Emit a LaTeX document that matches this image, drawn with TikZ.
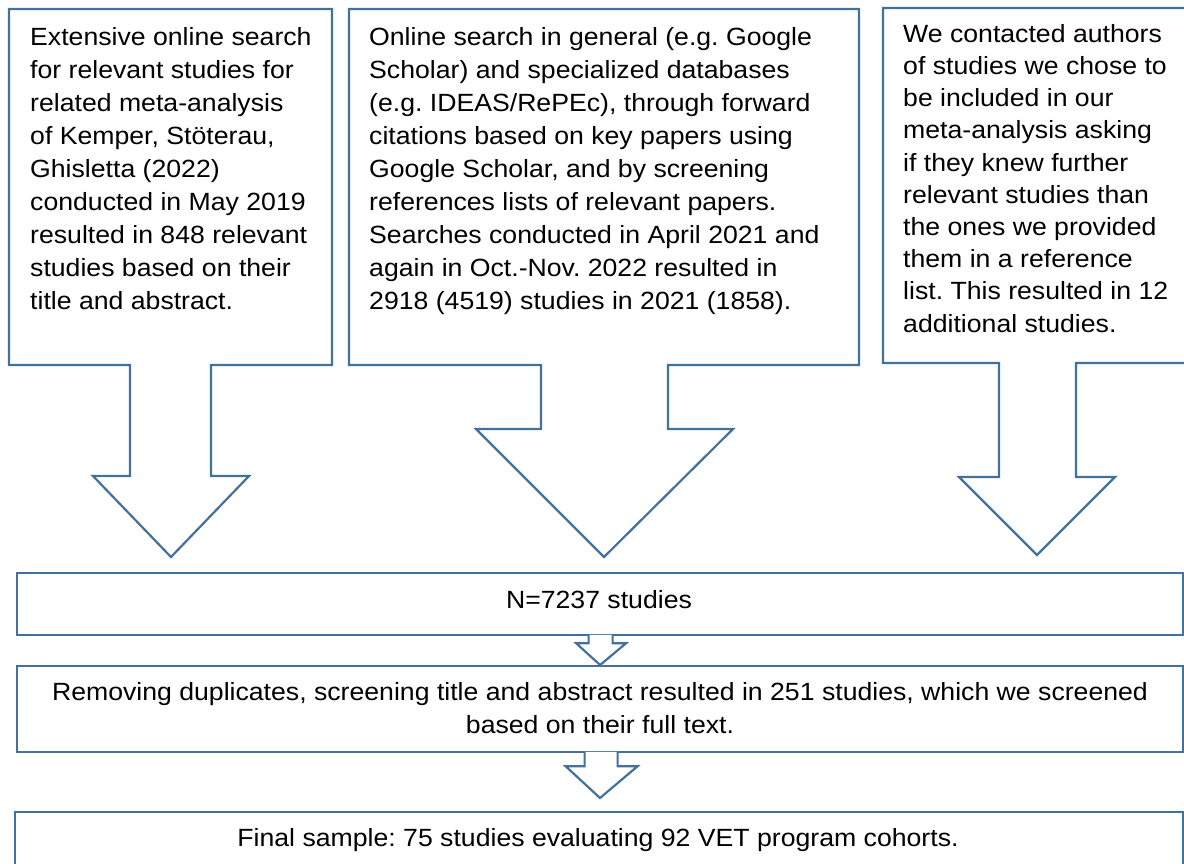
\documentclass[tikz,border=0pt]{standalone}
\usepackage{fontspec}
\setmainfont{Liberation Sans}[FakeStretch=1.07]
\usetikzlibrary{calc}
\definecolor{bord}{RGB}{65,113,156}
\begin{document}
\begin{tikzpicture}[x=1pt,y=-1pt,
  shapeline/.style={draw=bord,line width=2.2pt,line join=miter,fill=white},
  boxnode/.style={draw=bord,line width=2.2pt,fill=white,inner sep=0pt,anchor=north west},
  txt/.style={anchor=north west,inner sep=0pt,align=left,font=\fontsize{24.9}{33.1}\selectfont},
  ctxt/.style={anchor=north,inner sep=0pt,align=center,font=\fontsize{24.9}{33.1}\selectfont}]
\useasboundingbox (0,0) rectangle (1184,863);
\frenchspacing
% --- three callouts ---
\draw[shapeline] (9,9) -- (332,9) -- (332,365) -- (211,365) -- (211,476) -- (249,476)
  -- (171,557) -- (93,476) -- (130,476) -- (130,365) -- (9,365) -- cycle;
\draw[shapeline] (349,9) -- (859,9) -- (859,365) -- (668,365) -- (668,429) -- (733,429)
  -- (604,557) -- (476,429) -- (541,429) -- (541,365) -- (349,365) -- cycle;
\draw[shapeline] (883,8) -- (1191,8) -- (1191,363) -- (1076,363) -- (1076,477) -- (1115,477)
  -- (1037,555) -- (959,477) -- (999,477) -- (999,363) -- (883,363) -- cycle;

\node[txt] (t1) at (30,21.8) {\strut Extensive online search\\
for relevant studies for\\
related meta-analysis\\
of Kemper, Stöterau,\\
Ghisletta (2022)\\
conducted in May 2019\\
resulted in 848 relevant\\
studies based on their\\
title and abstract.};
\node[txt] (t2) at (369,21.8) {\strut Online search in general (e.g. Google\\
Scholar) and specialized databases\\
(e.g. IDEAS/RePEc), through forward\\
citations based on key papers using\\
Google Scholar, and by screening\\
references lists of relevant papers.\\
Searches conducted in April 2021 and\\
again in Oct.-Nov. 2022 resulted in\\
2918 (4519) studies in 2021 (1858).};
\node[txt,font=\fontsize{24.9}{32.2}\selectfont] (t3) at (903,19.5) {\strut We contacted authors\\
of studies we chose to\\
be included in our\\
meta-analysis asking\\
if they knew further\\
relevant studies than\\
the ones we provided\\
them in a reference\\
list. This resulted in 12\\
additional studies.};

% --- lower boxes ---
\node[boxnode,minimum width=1166pt,minimum height=62pt] (nbox) at (16,572) {};
\node[boxnode,minimum width=1166pt,minimum height=86pt] (rbox) at (16,665) {};
\node[boxnode,minimum width=1168pt,minimum height=70pt] (fbox) at (14,811) {};
\coordinate (ftip) at (600,798);

\node[ctxt] (nt) at (599,585.5) {\strut N=7237 studies};
\node[ctxt] (rt) at (600,676.8) {\strut Removing duplicates, screening title and abstract resulted in 251 studies, which we screened\\
based on their full text.};
\node[ctxt] (ft) at (598,822.8) {\strut Final sample: 75 studies evaluating 92 VET program cohorts.};

% --- small block arrows ---
\draw[shapeline] ($(nbox.south)+(-11.5,-1.3)$) -- ($(nbox.south)+(-11.5,7)$) -- ($(nbox.south)+(-24,7)$)
  -- (rbox.north) -- ($(nbox.south)+(26,7)$) -- ($(nbox.south)+(12.5,7)$) -- ($(nbox.south)+(12.5,-1.3)$);
\draw[shapeline] ($(rbox.south)+(-15.5,-1.3)$) -- ($(rbox.south)+(-15.5,13)$) -- ($(rbox.south)+(-34.5,13)$)
  -- (ftip) -- ($(rbox.south)+(37.5,13)$) -- ($(rbox.south)+(17.5,13)$) -- ($(rbox.south)+(17.5,-1.3)$);
\end{tikzpicture}
\end{document}
